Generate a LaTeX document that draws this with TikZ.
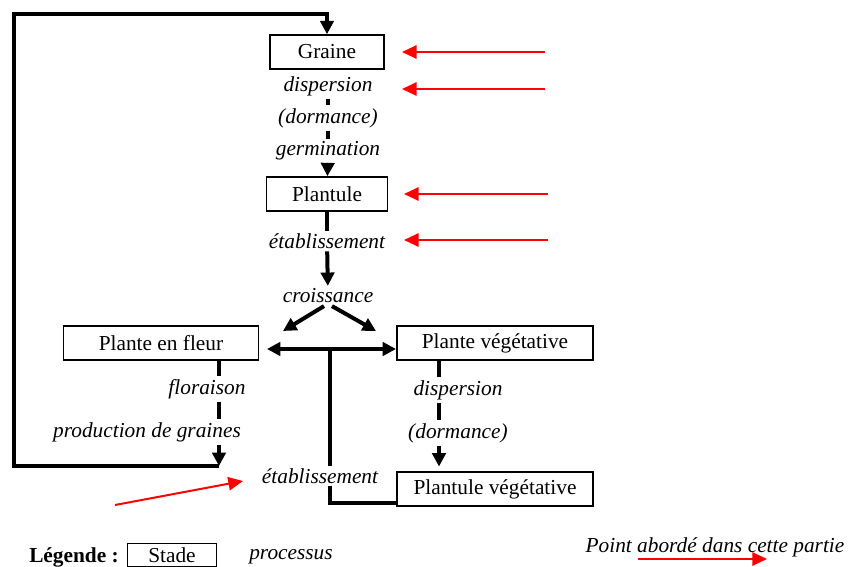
\documentclass[tikz,border=0pt]{standalone}
\usepackage{fontspec}
\setmainfont{Liberation Serif}
\usetikzlibrary{arrows.meta}
\tikzset{
  stade/.style={draw, line width=1.2pt, minimum height=25.5pt, inner sep=0pt, font=\fontsize{16}{19}\selectfont},
  proc/.style={font=\fontsize{16}{19}\selectfont\itshape, inner sep=2pt},
  trait/.style={line width=3pt},
  fleche/.style={line width=3pt, -{Triangle[length=10pt,width=10pt]}},
  rouge/.style={red, line width=1.5pt, -{Triangle[length=11pt,width=10pt]}}
}
\begin{document}
\begin{tikzpicture}[x=0.75pt,y=-0.75pt]
\useasboundingbox (0,0) rectangle (850,567);
%\draw[step=50,gray,very thin] (0,0) grid (850,567);
% stades
\node[stade, minimum width=85.5pt] (graine) at (327,52) {Graine};
\node[stade, minimum width=90.75pt] (plantule) at (327,194) {Plantule};
\node[stade, minimum width=146pt] (fleur) at (161,343) {Plante en fleur};
\node[stade, minimum width=147pt] (veget) at (495,343) {Plante végétative};
\node[stade, minimum width=147pt] (pveget) at (495,489) {Plantule végétative};
% processus
\node[proc] (disp) at (328,86) {dispersion};
\node[proc] (dorm) at (328,118) {(dormance)};
\node[proc] (germ) at (328,151) {germination};
\node[proc] (etab) at (327,241) {établissement};
\node[proc] (crois) at (328,296) {croissance};
\node[proc] (flor) at (207,389) {floraison};
\node[proc] (prod) at (147,432) {production de graines};
\node[proc] (dispv) at (458,390) {dispersion};
\node[proc] (dormv) at (458,433) {(dormance)};
\node[proc] (etabv) at (320,476) {établissement};
% points
\coordinate (fin) at (219,466);
\coordinate (coin) at (14,14);
\coordinate (colr) at (439,0);
\coordinate (fg) at (283,331);
\coordinate (fd) at (376,331);
\coordinate (dg) at (267,349);
\coordinate (dd) at (396,349);
\coordinate (t) at (330,349);
% colonne centrale
\draw[trait] (disp) -- (dorm);
\draw[trait] (dorm) -- (germ);
\draw[fleche] (germ) -- (plantule);
\draw[trait] (plantule) -- (etab);
\draw[fleche] (etab) -- (crois);
\draw[fleche] ([xshift=-3pt]crois.south) -- (fg);
\draw[fleche] ([xshift=3pt]crois.south) -- (fd);
\draw[line width=3pt, {Triangle[length=10pt,width=10pt]}-{Triangle[length=10pt,width=10pt]}] (dg) -- (dd);
\draw[trait] (t) -- (t |- etabv.north);
\draw[trait] (t |- etabv.south) |- ([yshift=2.5pt]pveget.south west);
% colonne gauche et boucle
\draw[trait] (fleur.south -| fin) -- (flor.north -| fin);
\draw[trait] (flor.south -| fin) -- (prod.north -| fin);
\draw[fleche] (prod.south -| fin) -- (fin);
\draw[fleche] (fin) -| (coin) -| (graine.north);
% colonne droite
\draw[trait] (veget.south -| colr) -- (dispv.north -| colr);
\draw[trait] (dispv.south -| colr) -- (dormv.north -| colr);
\draw[fleche] (dormv.south -| colr) -- ([yshift=3.5pt]pveget.north -| colr);
% fleches rouges
\coordinate (r1) at (545,52);   \coordinate (s1) at (402,52);
\coordinate (r2) at (545,89);   \coordinate (s2) at (402,89);
\coordinate (r3) at (548,194);  \coordinate (s3) at (404,194);
\coordinate (r4) at (548,240);  \coordinate (s4) at (404,240);
\coordinate (r5) at (115,505);  \coordinate (s5) at (243,481);
\draw[rouge] (r1) -- (s1);
\draw[rouge] (r2) -- (s2);
\draw[rouge] (r3) -- (s3);
\draw[rouge] (r4) -- (s4);
\draw[rouge] (r5) -- (s5);
% legende
\node[font=\fontsize{16}{19}\selectfont\bfseries] (leg) at (74,557) {Légende :};
\node[stade, minimum width=66.75pt, minimum height=17pt] (ex) at (172,555) {Stade};
\node[proc] (exproc) at (291,557) {processus};
\node[proc] (point) at (715,547) {Point abordé dans cette partie};
\coordinate (r6) at (638,559);  \coordinate (s6) at (767,559);
\draw[rouge] (r6) -- (s6);
\end{tikzpicture}
\end{document}
